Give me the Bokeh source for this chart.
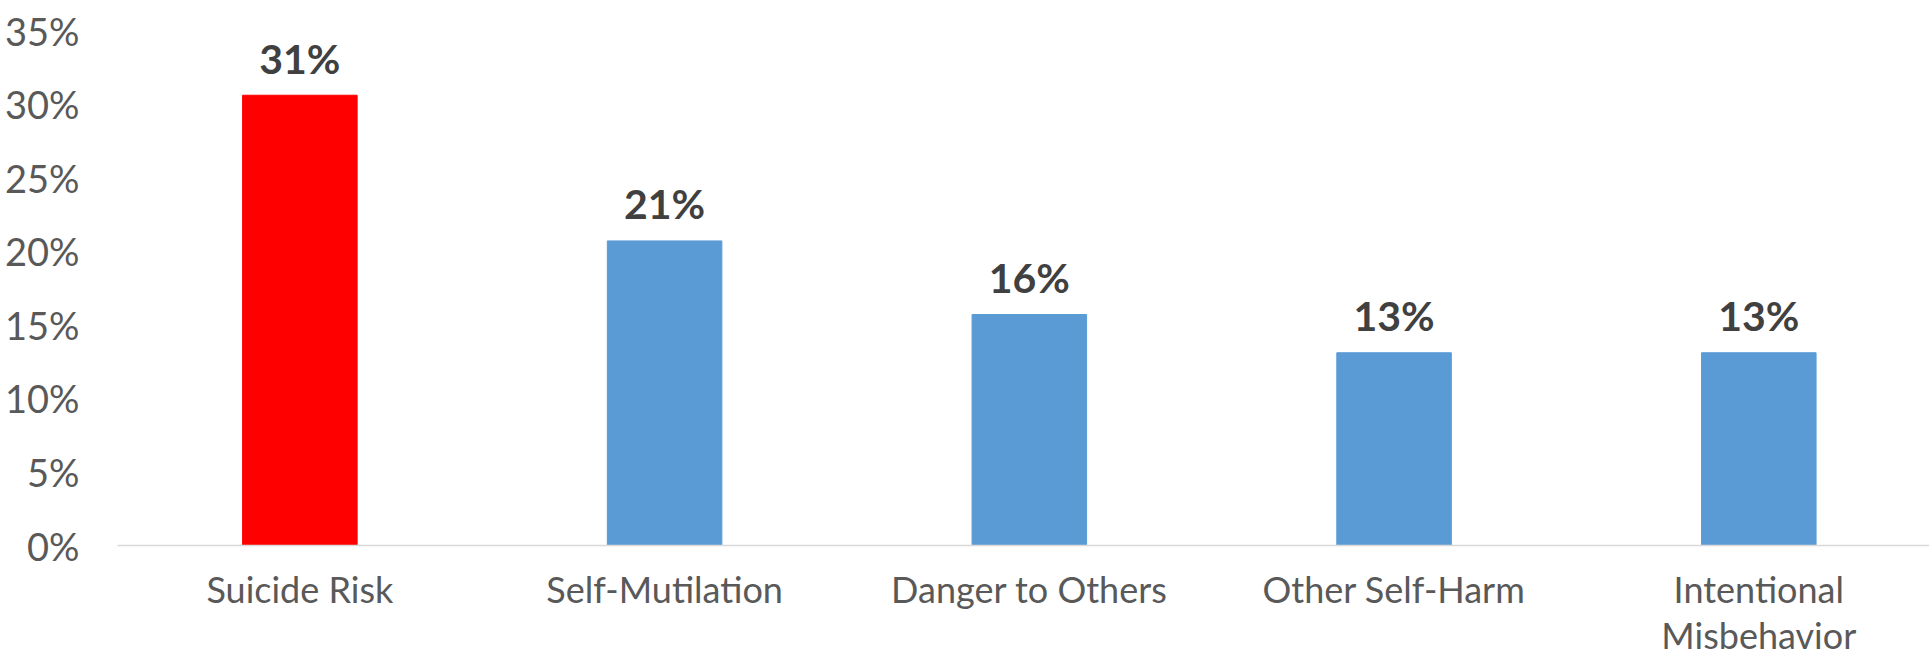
from bokeh.plotting import figure
from bokeh.models import ColumnDataSource, Range1d, FixedTicker, NumeralTickFormatter
from bokeh.core.properties import value
from bokeh.embed import file_html
from bokeh.resources import INLINE

# Share of incidents by category
categories = ["Suicide Risk", "Self-Mutilation", "Danger to Others",
              "Other Self-Harm", "Intentional\nMisbehavior"]
shares = [0.306, 0.207, 0.157, 0.131, 0.131]
bar_colors = ["#FF0000", "#5B9BD5", "#5B9BD5", "#5B9BD5", "#5B9BD5"]
y_ticks = [0.0, 0.05, 0.10, 0.15, 0.20, 0.25, 0.30, 0.35]

xs = [i + 0.5 for i in range(len(categories))]
labels = [f"{round(v * 100)}%" for v in shares]

src = ColumnDataSource(dict(x=xs, top=shares, color=bar_colors, label=labels))

p = figure(
    output_backend="svg", toolbar_location=None,
    frame_width=1812, frame_height=515,
    min_border_left=117, min_border_right=0,
    min_border_top=30, min_border_bottom=114,
    x_range=Range1d(0, 4.968), y_range=Range1d(0, 0.35),
)
p.outline_line_color = None
p.background_fill_color = "white"
p.border_fill_color = "white"

p.vbar(x="x", top="top", bottom=0, width=0.314, color="color", source=src)

p.text(x="x", y="top", text="label", source=src,
       text_align="center", text_baseline="alphabetic", y_offset=-37,
       text_font=value("Lato"), text_font_style="bold",
       text_font_size="41px", text_color="#404040")

# y axis: percentage labels only
p.yaxis.ticker = FixedTicker(ticks=y_ticks)
p.yaxis.formatter = NumeralTickFormatter(format="0%")
p.yaxis.axis_line_color = None
p.yaxis.major_tick_line_color = None
p.yaxis.minor_tick_line_color = None
p.yaxis.major_label_standoff = 32
p.yaxis.major_label_text_font = "Lato"
p.yaxis.major_label_text_font_size = "38px"
p.yaxis.major_label_text_color = "#595959"

# x axis: category names under each bar
p.xaxis.ticker = FixedTicker(ticks=xs)
p.xaxis.major_label_overrides = {x: c for x, c in zip(xs, categories)}
p.xaxis.axis_line_color = "#D9D9D9"
p.xaxis.axis_line_width = 1.5
p.xaxis.major_tick_line_color = None
p.xaxis.minor_tick_line_color = None
p.xaxis.major_label_standoff = 15
p.xaxis.major_label_text_font = "Lato"
p.xaxis.major_label_text_font_size = "36px"
p.xaxis.major_label_text_color = "#595959"
p.xaxis.major_label_text_line_height = 1.05

p.xgrid.visible = False
p.ygrid.visible = False

open("out.html", "w").write(file_html(p, INLINE))
